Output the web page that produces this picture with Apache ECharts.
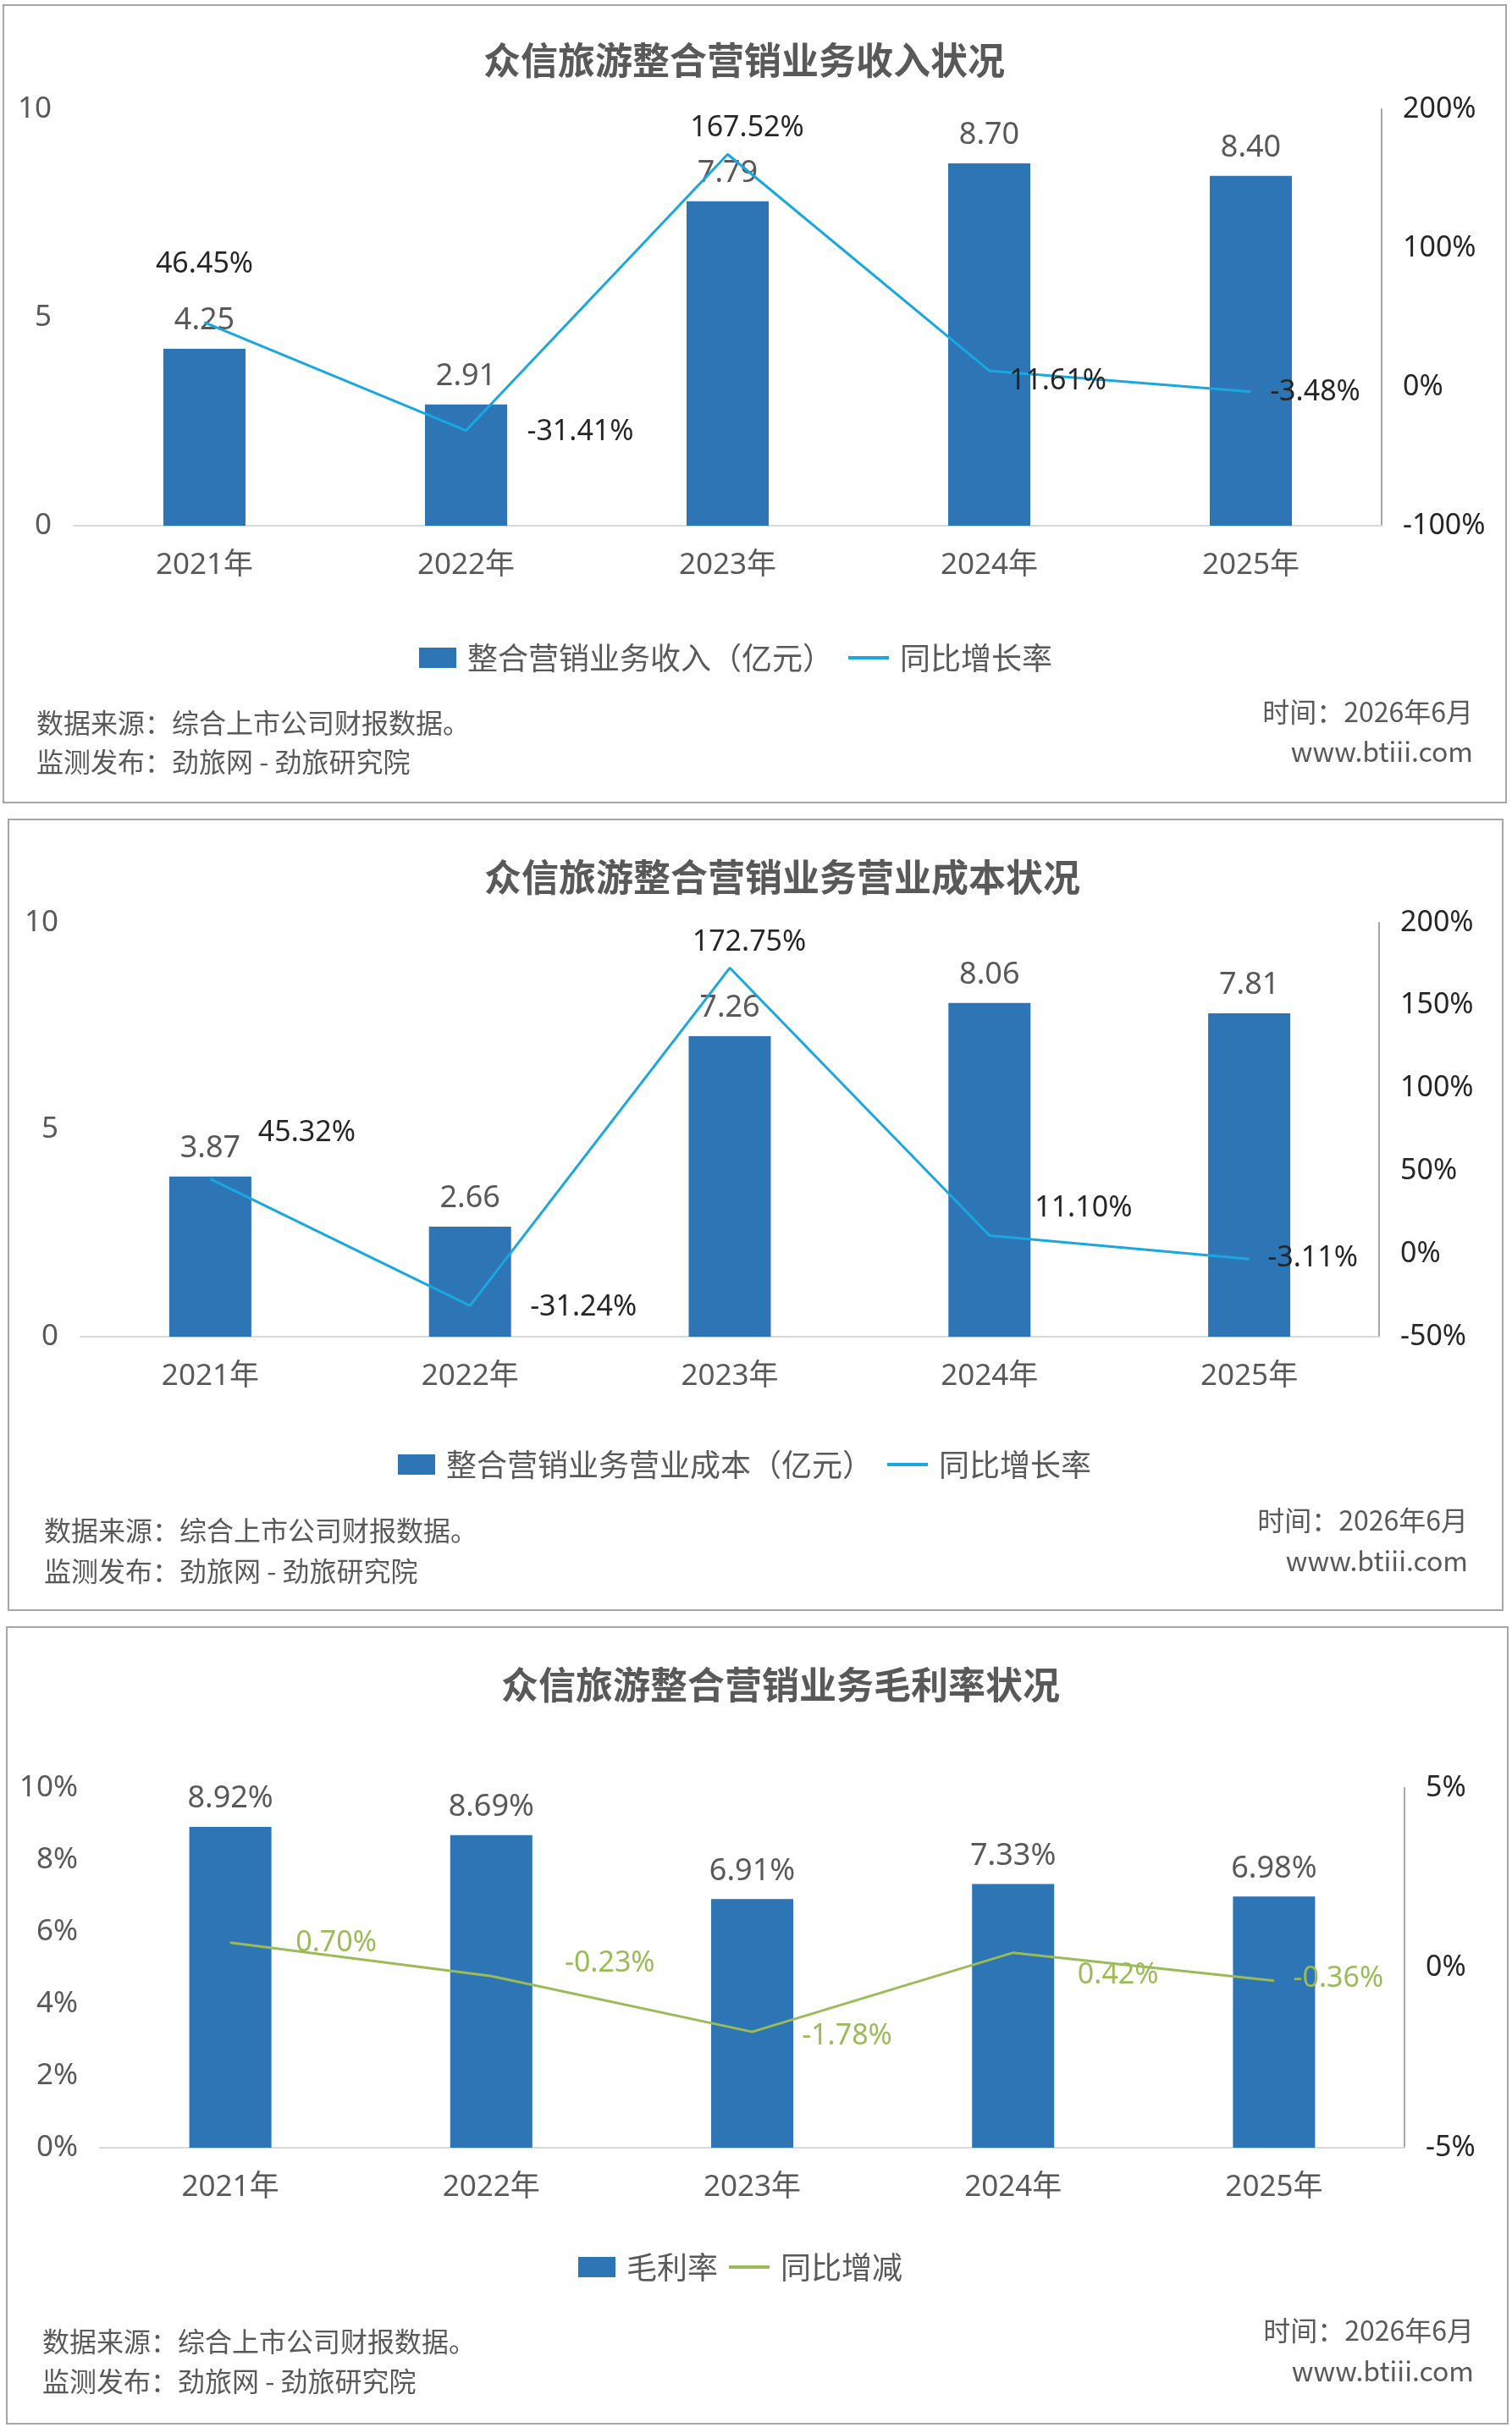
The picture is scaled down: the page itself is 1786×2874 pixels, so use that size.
<!DOCTYPE html>
<html>
<head>
<meta charset="utf-8">
<script src="https://cdn.jsdelivr.net/npm/echarts@6/dist/echarts.min.js"></script>
<style>
html,body{margin:0;padding:0;background:#ffffff;}
#c{width:1786px;height:2874px;}
</style>
</head>
<body>
<div id="c"></div>
<script>
// ---------- data ----------
const years = ['2021年', '2022年', '2023年', '2024年', '2025年'];
const revenue = [4.25, 2.91, 7.79, 8.70, 8.40];            // 整合营销业务收入（亿元）
const revenueGrowth = [46.45, -31.41, 167.52, 11.61, -3.48]; // 同比增长率 %
const cost = [3.87, 2.66, 7.26, 8.06, 7.81];               // 整合营销业务营业成本（亿元）
const costGrowth = [45.32, -31.24, 172.75, 11.10, -3.11];  // 同比增长率 %
const margin = [8.92, 8.69, 6.91, 7.33, 6.98];             // 毛利率 %
const marginChange = [0.70, -0.23, -1.78, 0.42, -0.36];    // 同比增减 %

const titles = ['众信旅游整合营销业务收入状况', '众信旅游整合营销业务营业成本状况', '众信旅游整合营销业务毛利率状况'];
const barNames = ['整合营销业务收入（亿元）', '整合营销业务营业成本（亿元）', '毛利率'];
const lineNames = ['同比增长率', '同比增长率', '同比增减'];
const leftTicks = [{min: 0, max: 10, interval: 5}, {min: 0, max: 10, interval: 5}, {min: 0, max: 10, interval: 2}];
const rightTicks = [{min: -100, max: 200, interval: 100}, {min: -50, max: 200, interval: 50}, {min: -5, max: 5, interval: 5}];
const sourceText = '数据来源：综合上市公司财报数据。';
const publishText = '监测发布：劲旅网 - 劲旅研究院';
const timeText = '时间：2026年6月';
const siteText = 'www.btiii.com';

// ---------- layout / style (not data) ----------
const FONT = "'Noto Sans','Noto Sans CJK SC',sans-serif";
const CJK = "'Noto Sans CJK SC','Noto Sans',sans-serif";
const GREY = '#595959';
const DARK = '#262626';
const BAR = '#2E75B6';
const BLUE_LINE = '#1AA7E0';
const GREEN = '#9BBB59';

const layout = [
  {border: [4, 6, 1775, 942], titleX: 879, titleY: 71,
   grid: {left: 87, top: 129, width: 1545, height: 492},
   legendY: 777, legendBarX: 495, legendLineX: 1002,
   foot: {lx: 43, ly1: 854, ly2: 900, rx: 1740, ry1: 841, ry2: 888},
   lineLabelOffsets: [[0, -69], [135, 2], [23, -31], [81, 12], [76, 1]]},
  {border: [10, 968, 1765, 934], titleX: 924, titleY: 1036,
   grid: {left: 95, top: 1090, width: 1534, height: 489},
   legendY: 1730, legendBarX: 470, legendLineX: 1048,
   foot: {lx: 52, ly1: 1808, ly2: 1856, rx: 1734, ry1: 1796, ry2: 1844},
   lineLabelOffsets: [[114, -54], [134, 2], [23, -30], [111, -32], [75, -1]]},
  {border: [8, 1922, 1773, 941], titleX: 922, titleY: 1990,
   grid: {left: 118, top: 2112, width: 1541, height: 425},
   legendY: 2678, legendBarX: 683, legendLineX: 861,
   foot: {lx: 50, ly1: 2766, ly2: 2813, rx: 1741, ry1: 2753, ry2: 2801},
   lineLabelOffsets: [[125, 1], [140, -15], [112, 5], [124, 27], [76, -2]]}
];

const barSets = [revenue, cost, margin];
const lineSets = [revenueGrowth, costGrowth, marginChange];
const lineColors = [BLUE_LINE, BLUE_LINE, GREEN];
const lineLabelColors = [DARK, DARK, GREEN];
const pctBars = [false, false, true];

const option = {
  backgroundColor: '#ffffff',
  animation: false,
  title: [], grid: [], xAxis: [], yAxis: [], series: [], legend: [], graphic: []
};

layout.forEach((L, i) => {
  option.title.push({
    text: titles[i], left: L.titleX, top: L.titleY - 24, textAlign: 'center', padding: 0,
    textStyle: {fontFamily: CJK, fontSize: 44, fontWeight: 'bold', color: GREY, lineHeight: 48}
  });
  option.grid.push(Object.assign({containLabel: false}, L.grid));
  option.xAxis.push({
    type: 'category', gridIndex: i, data: years,
    axisLine: {show: true, onZero: false, lineStyle: {color: '#D9D9D9', width: 2}},
    axisTick: {show: false},
    axisLabel: {color: GREY, fontSize: 35, fontFamily: FONT, margin: 30}
  });
  option.yAxis.push({
    type: 'value', gridIndex: i, position: 'left',
    min: leftTicks[i].min, max: leftTicks[i].max, interval: leftTicks[i].interval,
    axisLine: {show: false}, axisTick: {show: false}, splitLine: {show: false},
    axisLabel: {color: GREY, fontSize: 35, fontFamily: FONT, margin: 26,
                formatter: pctBars[i] ? '{value}%' : '{value}'}
  });
  option.yAxis.push({
    type: 'value', gridIndex: i, position: 'right',
    min: rightTicks[i].min, max: rightTicks[i].max, interval: rightTicks[i].interval,
    axisLine: {show: true, lineStyle: {color: '#A6A6A6', width: 2}},
    axisTick: {show: false}, splitLine: {show: false},
    axisLabel: {color: DARK, fontSize: 34, fontFamily: FONT, margin: 25, formatter: '{value}%'}
  });
  option.series.push({
    type: 'bar', name: barNames[i], xAxisIndex: i, yAxisIndex: i * 2,
    data: barSets[i], barWidth: 97,
    itemStyle: {color: BAR},
    label: {show: true, position: 'top', distance: 15, color: GREY, fontSize: 36, fontFamily: FONT,
            formatter: p => p.value.toFixed(2) + (pctBars[i] ? '%' : '')},
    z: 2
  });
  option.series.push({
    type: 'line', name: lineNames[i], xAxisIndex: i, yAxisIndex: i * 2 + 1,
    data: lineSets[i].map((v, k) => ({value: v, label: {offset: L.lineLabelOffsets[k]}})),
    symbol: 'circle', symbolSize: 1, showSymbol: true,
    lineStyle: {color: lineColors[i], width: 3},
    itemStyle: {color: lineColors[i]},
    label: {show: true, position: 'inside', color: lineLabelColors[i], fontSize: 34, fontFamily: FONT,
            formatter: p => p.value.toFixed(2) + '%'},
    z: 5
  });
  option.legend.push({
    data: [{name: barNames[i], icon: 'rect'}],
    left: L.legendBarX, top: L.legendY - 18, padding: 0, selectedMode: false,
    itemWidth: 44, itemHeight: 24,
    textStyle: {color: GREY, fontSize: 36, fontFamily: CJK, lineHeight: 36, padding: [0, 0, 0, 8]}
  });
  option.legend.push({
    data: [{name: lineNames[i], icon: 'rect', itemStyle: {color: lineColors[i]}}],
    left: L.legendLineX, top: L.legendY - 18, padding: 0, selectedMode: false,
    itemWidth: 48, itemHeight: 4,
    textStyle: {color: GREY, fontSize: 36, fontFamily: CJK, lineHeight: 36, padding: [0, 0, 0, 8]}
  });
  const b = L.border;
  option.graphic.push({
    type: 'rect', shape: {x: b[0], y: b[1], width: b[2], height: b[3]},
    style: {fill: 'none', stroke: '#A6A6A6', lineWidth: 2}, silent: true
  });
  const F = L.foot;
  const footStyle = {fill: GREY, fontSize: 32, fontFamily: CJK, verticalAlign: 'middle'};
  option.graphic.push({type: 'text', x: F.lx, y: F.ly1, style: Object.assign({text: sourceText, align: 'left'}, footStyle)});
  option.graphic.push({type: 'text', x: F.lx, y: F.ly2, style: Object.assign({text: publishText, align: 'left'}, footStyle)});
  option.graphic.push({type: 'text', x: F.rx, y: F.ry1, style: Object.assign({text: timeText, align: 'right'}, footStyle)});
  option.graphic.push({type: 'text', x: F.rx, y: F.ry2, style: Object.assign({text: siteText, align: 'right'}, footStyle)});
});

const chart = echarts.init(document.getElementById('c'), null, {renderer: 'canvas'});
chart.setOption(option);
</script>
</body>
</html>
